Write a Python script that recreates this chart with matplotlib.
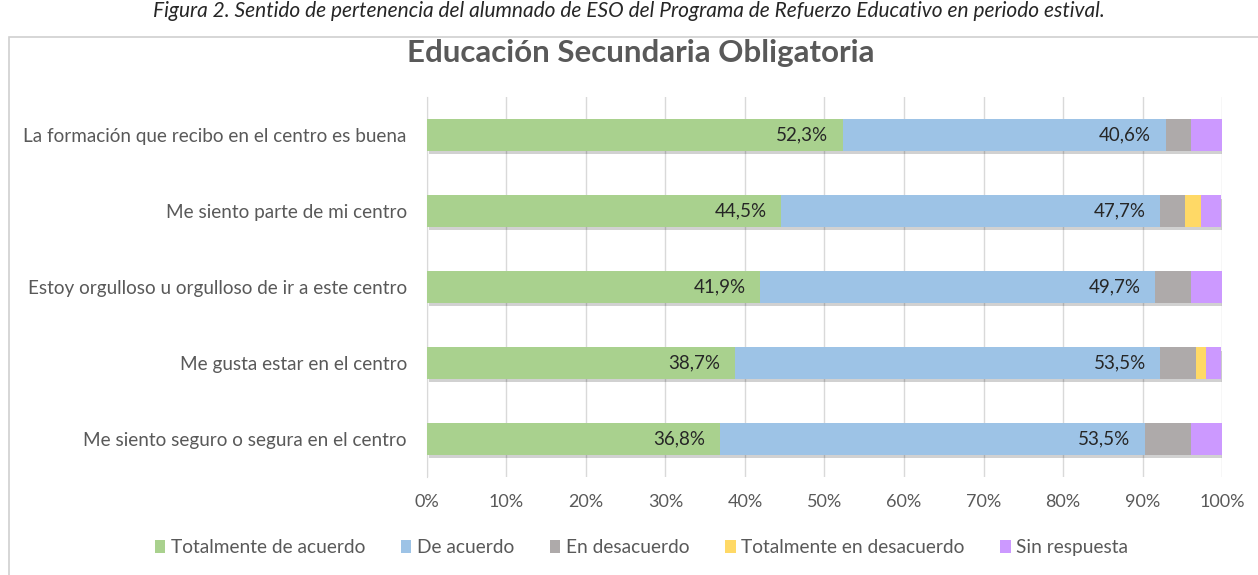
import numpy as np
import matplotlib.pyplot as plt
from matplotlib.patches import Rectangle, Patch
import matplotlib.patheffects as pe

plt.rcParams['font.family'] = ['Lato', 'DejaVu Sans']

# items, top to bottom
items = ['La formación que recibo en el centro es buena',
         'Me siento parte de mi centro',
         'Estoy orgulloso u orgulloso de ir a este centro',
         'Me gusta estar en el centro',
         'Me siento seguro o segura en el centro']

series = ['Totalmente de acuerdo', 'De acuerdo', 'En desacuerdo',
          'Totalmente en desacuerdo', 'Sin respuesta']

tot_acuerdo = [52.3, 44.5, 41.9, 38.7, 36.8]
de_acuerdo = [40.6, 47.7, 49.7, 53.5, 53.5]
en_desacuerdo = [3.2, 3.2, 4.5, 4.5, 5.8]
tot_desacuerdo = [0.0, 1.9, 0.0, 1.3, 0.0]
sin_respuesta = [3.9, 2.6, 3.9, 1.9, 3.9]

colors = ['#A9D18E', '#9DC3E6', '#AEAAAA', '#FFD966', '#CC99FF']
text_gray = '#595959'

fig = plt.figure(figsize=(12.58, 5.75), dpi=100)
ax = fig.add_axes([0.3394, 0.1704, 0.632, 0.661])

values = [tot_acuerdo, de_acuerdo, en_desacuerdo, tot_desacuerdo, sin_respuesta]
ypos = np.arange(len(items))[::-1]
left = np.zeros(len(items))
shadow = [pe.SimplePatchShadow(offset=(1.5, -2.5), shadow_rgbFace='#000000', alpha=0.18), pe.Normal()]
for i, (vals, name, col) in enumerate(zip(values, series, colors)):
    vals = np.array(vals)
    ax.barh(ypos, vals, left=left, height=0.41, color=col, zorder=3, path_effects=shadow)
    if i < 2:
        for y, l, v in zip(ypos, left, vals):
            ax.text(l + v - 1.8, y, f'{v:.1f}%'.replace('.', ','), ha='right',
                    va='center', fontsize=13.5, color='#262626', zorder=5)
    left = left + vals

ax.set_xlim(0, 100)
ax.set_ylim(-0.5, 4.5)
ax.set_xticks(np.arange(0, 101, 10))
ax.set_xticklabels([f'{t}%' for t in range(0, 101, 10)])
ax.set_yticks(ypos)
ax.set_yticklabels(items)
ax.grid(axis='x', color='#D9D9D9', linewidth=1, zorder=0)
for s in ['top', 'right', 'bottom']:
    ax.spines[s].set_visible(False)
ax.spines['left'].set_color('#D9D9D9')
ax.tick_params(axis='both', length=0, labelcolor=text_gray)
ax.tick_params(axis='y', pad=14.5, labelsize=13.6)
ax.tick_params(axis='x', pad=12, labelsize=13)

fig.text(0.509, 0.907, 'Educación Secundaria Obligatoria', ha='center', va='center',
         fontsize=22.5, fontweight='bold', color=text_gray)

fig.text(0.5, 0.999, 'Figura 2. Sentido de pertenencia del alumnado de ESO del Programa de Refuerzo Educativo en periodo estival.',
         ha='center', va='top', fontsize=15, style='italic', color='#262626')

# chart frame
fig.patches.append(Rectangle((9 / 1258, -0.1), 1.2, 1 - 37 / 575 + 0.1, transform=fig.transFigure,
                             fill=False, edgecolor='#D0D0D0', linewidth=1.2))

handles = [Patch(facecolor=c, label=n) for c, n in zip(colors, series)]
fig.legend(handles=handles, loc='center', bbox_to_anchor=(0.51, 0.047), ncol=5, frameon=False,
           fontsize=13.8, labelcolor=text_gray, handlelength=0.55, handleheight=0.7,
           handletextpad=0.3, columnspacing=1.85)

fig.savefig('out.png', dpi=100)
